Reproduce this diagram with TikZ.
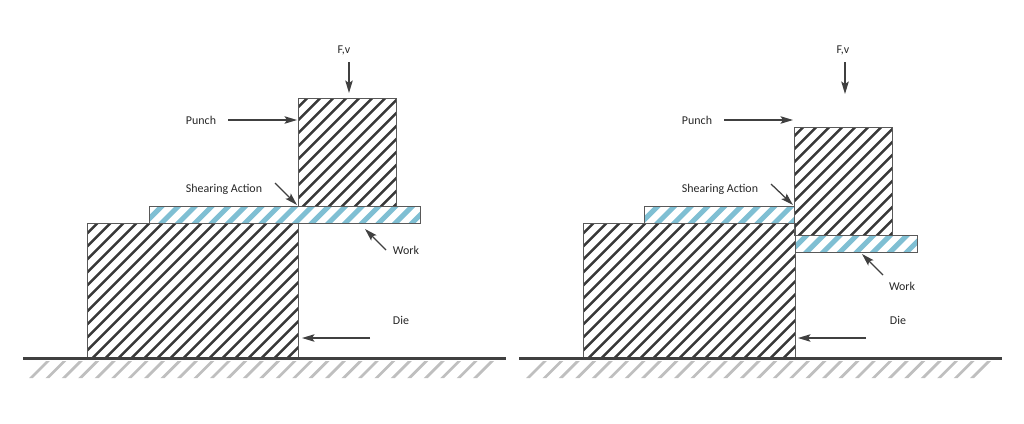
\documentclass[tikz,border=0pt]{standalone}
\usepackage{fontspec}
\setmainfont{Carlito}
\usetikzlibrary{arrows.meta}
\definecolor{iceblue}{HTML}{7FBFD3}

\begin{document}
\begin{tikzpicture}
[x=0.02cm,y=-0.02cm,
>={Stealth[length=0.25cm,width=0.15cm,inset=0.05cm]},
steel/.style={draw=black!65,line width=0.02cm,
path picture={\foreach \k in {0,...,100}
\draw [line width=0.05cm,black!78] ({#1+13*\k},0) -- (0,{#1+13*\k});}},
work/.style={draw=black!65,line width=0.02cm,
path picture={\foreach \k in {0,...,80}
\draw [line width=0.1cm,iceblue] ({#1+16.7*\k},0) -- (0,{#1+16.7*\k});}},
floor/.style={
path picture={\foreach \k in {0,...,90}
\draw [line width=0.055cm,black!25] ({#1+16.45*\k},0) -- (0,{#1+16.45*\k});}},
base/.style={draw=black!75,line width=0.06cm},
lbl/.style={font=\fontsize{6.8}{8}\selectfont,text=black!85,inner sep=0pt},
pointer/.style={->,draw=black!75,line width=0.025cm}]
  \useasboundingbox (0,0) rectangle (1024,423);

  % hatched ground
  \path [floor=14.2] (29,378) -- (46,361) -- (496,361) -- (479,378) -- cycle;
  \path [floor=1.25] (526,378) -- (543,361) -- (992,361) -- (975,378) -- cycle;

  % blank before the cut
  \draw [steel=8.7] (87,223) rectangle (298,358);
  \draw [steel=2.3] (298,98) rectangle (396,206);
  \draw [work=0.6] (149,206) rectangle (420,223);
  \draw [base] (23,358.5) -- (506,358.5);

  \node [lbl] (fvA) at (344,50) {F,v};
  \node [lbl] (punchA) at (201,120) {Punch};
  \node [lbl] (shearA) at (224,189) {Shearing Action};
  \node [lbl] (workA) at (406,250) {Work};
  \node [lbl] (dieA) at (401,320) {Die};

  \coordinate (fvtailA) at (349,62);
  \coordinate (fvtipA) at (349,93);
  \coordinate (punchtailA) at (228,120);
  \coordinate (punchtipA) at (297,120);
  \coordinate (sheartailA) at (275,183);
  \coordinate (sheartipA) at (297,205);
  \coordinate (worktailA) at (386,250);
  \coordinate (worktipA) at (365,229);
  \coordinate (dietailA) at (370,338);
  \coordinate (dietipA) at (302,338);
  \draw [pointer] (fvtailA) -- (fvtipA);
  \draw [pointer] (punchtailA) -- (punchtipA);
  \draw [pointer] (sheartailA) -- (sheartipA);
  \draw [pointer] (worktailA) -- (worktipA);
  \draw [pointer] (dietailA) -- (dietipA);

  % slug pushed through
  \draw [steel=10.7] (583,223) rectangle (795,358);
  \draw [steel=7.3] (794,127) rectangle (892,235);
  \draw [work=12.3] (644,206) rectangle (794,223);
  \draw [work=6.6] (795,235) rectangle (917,252);
  \draw [base] (519,358.5) -- (1002,358.5);

  \node [lbl] (fvB) at (843,50) {F,v};
  \node [lbl] (punchB) at (697,120) {Punch};
  \node [lbl] (shearB) at (720,189) {Shearing Action};
  \node [lbl] (workB) at (902,286) {Work};
  \node [lbl] (dieB) at (898,320) {Die};

  \coordinate (fvtailB) at (845,62);
  \coordinate (fvtipB) at (845,94);
  \coordinate (punchtailB) at (724,120);
  \coordinate (punchtipB) at (793,120);
  \coordinate (sheartailB) at (771,184);
  \coordinate (sheartipB) at (793,205);
  \coordinate (worktailB) at (883,275);
  \coordinate (worktipB) at (862,254);
  \coordinate (dietailB) at (866,338);
  \coordinate (dietipB) at (798,338);
  \draw [pointer] (fvtailB) -- (fvtipB);
  \draw [pointer] (punchtailB) -- (punchtipB);
  \draw [pointer] (sheartailB) -- (sheartipB);
  \draw [pointer] (worktailB) -- (worktipB);
  \draw [pointer] (dietailB) -- (dietipB);
\end{tikzpicture}
\end{document}
